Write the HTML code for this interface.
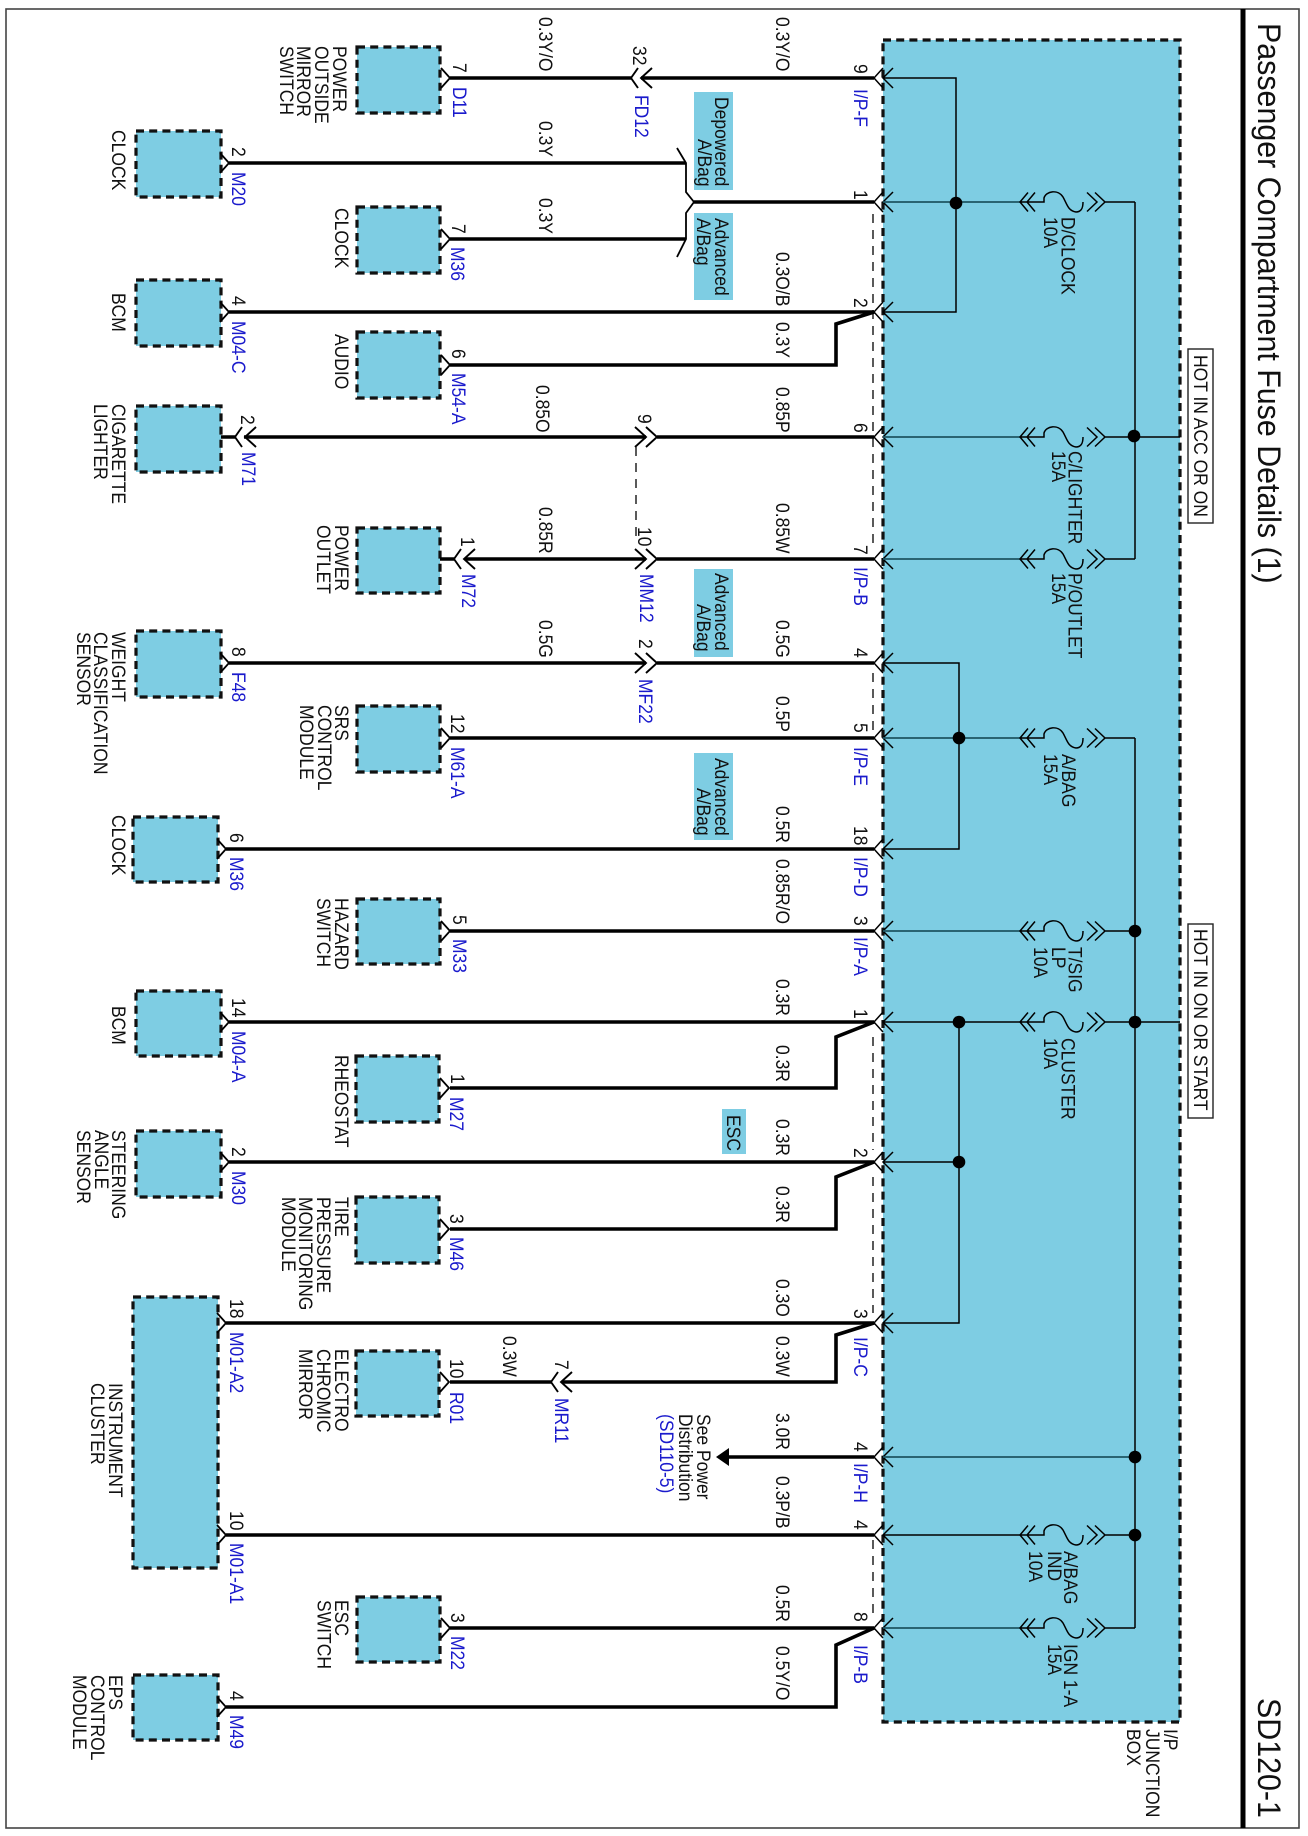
<!DOCTYPE html>
<html><head><meta charset="utf-8"><title>Passenger Compartment Fuse Details (1)</title>
<style>
html,body{margin:0;padding:0;background:#fff}
svg{display:block}
text{font-family:"Liberation Sans",Arial,sans-serif;font-size:17.5px;fill:#111}
.b{fill:#1a1acc}
.tt{font-size:30.4px}
.box{fill:#7ecde3;stroke:#111;stroke-width:3.2;stroke-dasharray:8 5.2}
.tag{fill:#7ecde3;stroke:none}
.w{fill:none;stroke:#000;stroke-width:3.6}
.n{fill:none;stroke:#000;stroke-width:1.5}
.t{fill:none;stroke:#1f5563;stroke-width:1.7}
.d{fill:none;stroke:#000;stroke-width:1.3;stroke-dasharray:9 7}
</style></head><body>
<svg xmlns="http://www.w3.org/2000/svg" width="1308" height="1836" viewBox="0 0 1308 1836">
<defs>
<path id="cn" class="n" d="M-9,-10L0,0L-9,10" style="stroke-width:1.8"/>
<g id="ip"><path class="n" d="M9,-10L0,0L9,10M19,-10L9,0L19,10"/></g>
<g id="L"><path class="n" d="M7,-10L0,0L7,10M21,-10L10,0L21,10" style="stroke-width:1.9"/></g>
<g id="R"><path class="n" d="M-11,-10L0,0L-11,10M-22,-10L-11,0L-22,10" style="stroke-width:1.9"/></g>
<g id="fuse"><path class="n" d="M1028,-9.500L1020,0L1028,9.500M1035,-9.500L1027,0L1035,9.500M1020,0H1044V-4C1046,-11 1058,-13 1063,-5C1067,2 1068,9 1076,10C1082,10 1083,5 1083,0M1087,-9.500L1097,0L1087,9.500M1095,-9.500L1105,0L1095,9.500M1105,0H1135"/></g>
</defs>

<!-- frame -->
<rect x="6" y="9" width="1293" height="1819" fill="none" stroke="#444" stroke-width="1.6"/>
<rect x="1240.500" y="9" width="5" height="1819" fill="#000"/>

<!-- junction box -->
<rect class="box" x="883" y="40" width="297" height="1682"/>

<!-- component boxes -->
<rect class="box" x="357" y="47" width="83" height="66"/>
<rect class="box" x="136" y="131" width="85" height="66"/>
<rect class="box" x="357" y="207" width="83" height="66"/>
<rect class="box" x="136" y="280" width="85" height="66"/>
<rect class="box" x="357" y="332" width="83" height="66"/>
<rect class="box" x="136" y="406" width="85" height="66"/>
<rect class="box" x="357" y="528" width="83" height="65"/>
<rect class="box" x="136" y="631" width="85" height="66"/>
<rect class="box" x="357" y="706" width="83" height="66"/>
<rect class="box" x="133" y="817" width="85" height="65"/>
<rect class="box" x="357" y="899" width="83" height="65"/>
<rect class="box" x="136" y="991" width="85" height="65"/>
<rect class="box" x="356" y="1056" width="83" height="66"/>
<rect class="box" x="136" y="1131" width="85" height="66"/>
<rect class="box" x="356" y="1197" width="83" height="66"/>
<rect class="box" x="133" y="1297" width="85" height="271"/>
<rect class="box" x="356" y="1351" width="83" height="65"/>
<rect class="box" x="357" y="1597" width="83" height="65"/>
<rect class="box" x="133" y="1675" width="85" height="65"/>

<!-- tags -->
<rect class="tag" x="694" y="92" width="39" height="98"/>
<rect class="tag" x="694" y="213" width="39" height="87"/>
<rect class="tag" x="694" y="569" width="39" height="88"/>
<rect class="tag" x="694" y="753" width="39" height="87"/>
<rect class="tag" x="722" y="1109" width="24" height="45"/>

<!-- thick wires -->
<path class="w" d="M450,78H631M641,78H874"/>
<path class="w" d="M229,163H686"/>
<path class="w" d="M694,202H874"/>
<path class="w" d="M450,239H686"/>
<path class="w" d="M229,312H874"/>
<path class="w" d="M450,365H836V324L874,312"/>
<path class="w" d="M221,437H235M244,437H646M657,437H874"/>
<path class="w" d="M440,559H454M465,559H646M657,559H874"/>
<path class="w" d="M229,663H646M657,663H874"/>
<path class="w" d="M450,738H874"/>
<path class="w" d="M226,849H874"/>
<path class="w" d="M450,931H874"/>
<path class="w" d="M229,1022H874"/>
<path class="w" d="M450,1088H836V1037L874,1022"/>
<path class="w" d="M229,1162H874"/>
<path class="w" d="M450,1229H836V1177L874,1162"/>
<path class="w" d="M226,1323H874"/>
<path class="w" d="M450,1382H551M562,1382H836V1335L874,1323"/>
<path class="w" d="M728,1457H874"/>
<polygon points="716,1457 729,1448 729,1466" fill="#000"/>
<path class="w" d="M226,1535H874"/>
<path class="w" d="M450,1628H874"/>
<path class="w" d="M226,1707H836V1645L874,1628"/>

<!-- branch shape -->
<path class="n" d="M677,148L686,163V192L694,202L686,213V239L677,257" style="stroke-width:1.8"/>

<!-- dashed connections -->
<path class="d" d="M873,214V543M873,673V730M873,1037V1150M873,1177V1313M873,1540V1620"/>
<path class="d" d="M636,447V540"/>

<!-- component end connectors -->
<use href="#cn" x="450" y="78"/><use href="#cn" x="229" y="163"/><use href="#cn" x="450" y="239"/>
<use href="#cn" x="229" y="312"/><use href="#cn" x="450" y="365"/><use href="#cn" x="229" y="663"/>
<use href="#cn" x="450" y="738"/><use href="#cn" x="226" y="849"/><use href="#cn" x="450" y="931"/>
<use href="#cn" x="229" y="1022"/><use href="#cn" x="449" y="1088"/><use href="#cn" x="229" y="1162"/>
<use href="#cn" x="449" y="1229"/><use href="#cn" x="226" y="1323"/><use href="#cn" x="449" y="1382"/>
<use href="#cn" x="226" y="1535"/><use href="#cn" x="450" y="1628"/><use href="#cn" x="226" y="1707"/>

<!-- inline connectors -->
<use href="#L" x="631" y="78"/><use href="#L" x="235" y="437"/><use href="#L" x="454" y="559"/><use href="#L" x="551" y="1382"/>
<use href="#R" x="657" y="437"/><use href="#R" x="657" y="559"/><use href="#R" x="657" y="663"/>

<!-- I/P connectors -->
<use href="#ip" x="874" y="78"/><use href="#ip" x="874" y="202"/><use href="#ip" x="874" y="312"/><use href="#ip" x="874" y="437"/>
<use href="#ip" x="874" y="559"/><use href="#ip" x="874" y="663"/><use href="#ip" x="874" y="738"/><use href="#ip" x="874" y="849"/>
<use href="#ip" x="874" y="931"/><use href="#ip" x="874" y="1022"/><use href="#ip" x="874" y="1162"/><use href="#ip" x="874" y="1323"/>
<use href="#ip" x="874" y="1457"/><use href="#ip" x="874" y="1535"/><use href="#ip" x="874" y="1628"/>

<!-- internal wiring -->
<path class="n" d="M883,78H956V312H883"/>
<path class="n" d="M883,663H959V849H883"/>
<path class="n" d="M959,1022V1323H883M883,1162H959"/>
<path class="t" d="M883,202H1020M883,437H1020M883,559H1020M883,738H1020M883,931H1020M883,1457H1135M883,1628H1020"/>
<path class="n" d="M883,1022H1020M883,1535H1020"/>
<path class="n" d="M1135,202V559M1135,738V1628M1135,437H1180M1135,1022H1180"/>
<g>
<use href="#fuse" y="202"/><use href="#fuse" y="437"/><use href="#fuse" y="559"/><use href="#fuse" y="738"/>
<use href="#fuse" y="931"/><use href="#fuse" y="1022"/><use href="#fuse" y="1535"/><use href="#fuse" y="1628"/>
</g>
<g fill="#000">
<circle cx="956" cy="203" r="6.300"/><circle cx="959" cy="738" r="6.300"/><circle cx="959" cy="1022" r="6.300"/><circle cx="959" cy="1162" r="6.300"/>
<circle cx="1134" cy="436" r="6.300"/><circle cx="1135" cy="931" r="6.300"/><circle cx="1135" cy="1022" r="6.300"/><circle cx="1135" cy="1457" r="6.300"/><circle cx="1135" cy="1535" r="6.300"/>
</g>

<!-- hot boxes -->
<rect x="1188" y="349" width="25" height="174" fill="#fff" stroke="#222" stroke-width="1.4"/>
<rect x="1188" y="924" width="25" height="194" fill="#fff" stroke="#222" stroke-width="1.4"/>
<text transform="translate(1194 355) rotate(90) scale(1 1.1)">HOT IN ACC OR ON</text>
<text transform="translate(1194 929) rotate(90) scale(1 1.1)">HOT IN ON OR START</text>

<!-- title -->
<text class="tt" transform="translate(1258 23) rotate(90) scale(1 1.08)">Passenger Compartment Fuse Details (1)</text>
<text class="tt" transform="translate(1258 1698) rotate(90) scale(1 1.08)">SD120-1</text>

<!-- component names -->
<text transform="translate(333 46) rotate(90) scale(1 1.1)">POWER</text><text transform="translate(315 46) rotate(90) scale(1 1.1)">OUTSIDE</text><text transform="translate(297 46) rotate(90) scale(1 1.1)">MIRROR</text><text transform="translate(280 46) rotate(90) scale(1 1.1)">SWITCH</text>
<text transform="translate(112 130) rotate(90) scale(1 1.1)">CLOCK</text>
<text transform="translate(335 208) rotate(90) scale(1 1.1)">CLOCK</text>
<text transform="translate(112 293) rotate(90) scale(1 1.1)">BCM</text>
<text transform="translate(335 334) rotate(90) scale(1 1.1)">AUDIO</text>
<text transform="translate(112 404) rotate(90) scale(1 1.1)">CIGARETTE</text><text transform="translate(94 404) rotate(90) scale(1 1.1)">LIGHTER</text>
<text transform="translate(335 525) rotate(90) scale(1 1.1)">POWER</text><text transform="translate(317 525) rotate(90) scale(1 1.1)">OUTLET</text>
<text transform="translate(112 632) rotate(90) scale(1 1.1)">WEIGHT</text><text transform="translate(94 632) rotate(90) scale(1 1.1)">CLASSIFICATION</text><text transform="translate(77 632) rotate(90) scale(1 1.1)">SENSOR</text>
<text transform="translate(335 705) rotate(90) scale(1 1.1)">SRS</text><text transform="translate(318 705) rotate(90) scale(1 1.1)">CONTROL</text><text transform="translate(300 705) rotate(90) scale(1 1.1)">MODULE</text>
<text transform="translate(112 815) rotate(90) scale(1 1.1)">CLOCK</text>
<text transform="translate(335 898) rotate(90) scale(1 1.1)">HAZARD</text><text transform="translate(317 898) rotate(90) scale(1 1.1)">SWITCH</text>
<text transform="translate(112 1006) rotate(90) scale(1 1.1)">BCM</text>
<text transform="translate(335 1055) rotate(90) scale(1 1.1)">RHEOSTAT</text>
<text transform="translate(112 1130) rotate(90) scale(1 1.1)">STEERING</text><text transform="translate(95 1130) rotate(90) scale(1 1.1)">ANGLE</text><text transform="translate(77 1130) rotate(90) scale(1 1.1)">SENSOR</text>
<text transform="translate(335 1197) rotate(90) scale(1 1.1)">TIRE</text><text transform="translate(317 1197) rotate(90) scale(1 1.1)">PRESSURE</text><text transform="translate(299 1197) rotate(90) scale(1 1.1)">MONITORING</text><text transform="translate(282 1197) rotate(90) scale(1 1.1)">MODULE</text>
<text transform="translate(109 1383) rotate(90) scale(1 1.1)">INSTRUMENT</text><text transform="translate(91 1383) rotate(90) scale(1 1.1)">CLUSTER</text>
<text transform="translate(335 1349) rotate(90) scale(1 1.1)">ELECTRO</text><text transform="translate(317 1349) rotate(90) scale(1 1.1)">CHROMIC</text><text transform="translate(299 1349) rotate(90) scale(1 1.1)">MIRROR</text>
<text transform="translate(335 1600) rotate(90) scale(1 1.1)">ESC</text><text transform="translate(317.500 1600) rotate(90) scale(1 1.1)">SWITCH</text>
<text transform="translate(109 1675) rotate(90) scale(1 1.1)">EPS</text><text transform="translate(91 1675) rotate(90) scale(1 1.1)">CONTROL</text><text transform="translate(73 1675) rotate(90) scale(1 1.1)">MODULE</text>
<text transform="translate(1164 1729) rotate(90) scale(1 1.1)">I/P</text><text transform="translate(1146 1729) rotate(90) scale(1 1.1)">JUNCTION</text><text transform="translate(1127 1729) rotate(90) scale(1 1.1)">BOX</text>

<!-- pin numbers, left side -->
<text transform="translate(453 63) rotate(90) scale(1 1.1)">7</text>
<text transform="translate(232 147) rotate(90) scale(1 1.1)">2</text>
<text transform="translate(452 224) rotate(90) scale(1 1.1)">7</text>
<text transform="translate(232 296) rotate(90) scale(1 1.1)">4</text>
<text transform="translate(452 349) rotate(90) scale(1 1.1)">6</text>
<text transform="translate(241 415) rotate(90) scale(1 1.1)">2</text>
<text transform="translate(461 537) rotate(90) scale(1 1.1)">1</text>
<text transform="translate(232 647) rotate(90) scale(1 1.1)">8</text>
<text transform="translate(451 714) rotate(90) scale(1 1.1)">12</text>
<text transform="translate(230 833) rotate(90) scale(1 1.1)">6</text>
<text transform="translate(453 915) rotate(90) scale(1 1.1)">5</text>
<text transform="translate(232 998) rotate(90) scale(1 1.1)">14</text>
<text transform="translate(451 1074) rotate(90) scale(1 1.1)">1</text>
<text transform="translate(232 1147) rotate(90) scale(1 1.1)">2</text>
<text transform="translate(450 1214) rotate(90) scale(1 1.1)">3</text>
<text transform="translate(230 1299) rotate(90) scale(1 1.1)">18</text>
<text transform="translate(450 1359) rotate(90) scale(1 1.1)">10</text>
<text transform="translate(230 1511) rotate(90) scale(1 1.1)">10</text>
<text transform="translate(451 1613) rotate(90) scale(1 1.1)">3</text>
<text transform="translate(230 1691) rotate(90) scale(1 1.1)">4</text>
<!-- inline pins -->
<text transform="translate(633 46) rotate(90) scale(1 1.1)">32</text>
<text transform="translate(638 414) rotate(90) scale(1 1.1)">9</text>
<text transform="translate(638 527) rotate(90) scale(1 1.1)">10</text>
<text transform="translate(639 639) rotate(90) scale(1 1.1)">2</text>
<text transform="translate(555 1360) rotate(90) scale(1 1.1)">7</text>
<!-- I/P pins -->
<text transform="translate(854 64) rotate(90) scale(1 1.1)">9</text>
<text transform="translate(854 190) rotate(90) scale(1 1.1)">1</text>
<text transform="translate(854 298) rotate(90) scale(1 1.1)">2</text>
<text transform="translate(854 423) rotate(90) scale(1 1.1)">6</text>
<text transform="translate(854 545) rotate(90) scale(1 1.1)">7</text>
<text transform="translate(854 648) rotate(90) scale(1 1.1)">4</text>
<text transform="translate(854 723) rotate(90) scale(1 1.1)">5</text>
<text transform="translate(854 826) rotate(90) scale(1 1.1)">18</text>
<text transform="translate(854 916) rotate(90) scale(1 1.1)">3</text>
<text transform="translate(854 1009) rotate(90) scale(1 1.1)">1</text>
<text transform="translate(854 1148) rotate(90) scale(1 1.1)">2</text>
<text transform="translate(854 1309) rotate(90) scale(1 1.1)">3</text>
<text transform="translate(854 1442) rotate(90) scale(1 1.1)">4</text>
<text transform="translate(854 1520) rotate(90) scale(1 1.1)">4</text>
<text transform="translate(854 1612) rotate(90) scale(1 1.1)">8</text>

<!-- connector names -->
<g class="cnames">
<text class="b" transform="translate(453 87) rotate(90) scale(1 1.1)">D11</text>
<text class="b" transform="translate(635 95) rotate(90) scale(1 1.1)">FD12</text>
<text class="b" transform="translate(232 172) rotate(90) scale(1 1.1)">M20</text>
<text class="b" transform="translate(451 247) rotate(90) scale(1 1.1)">M36</text>
<text class="b" transform="translate(232 321) rotate(90) scale(1 1.1)">M04-C</text>
<text class="b" transform="translate(452 373) rotate(90) scale(1 1.1)">M54-A</text>
<text class="b" transform="translate(242 452) rotate(90) scale(1 1.1)">M71</text>
<text class="b" transform="translate(462 574) rotate(90) scale(1 1.1)">M72</text>
<text class="b" transform="translate(640 574) rotate(90) scale(1 1.1)">MM12</text>
<text class="b" transform="translate(232 672) rotate(90) scale(1 1.1)">F48</text>
<text class="b" transform="translate(639 679) rotate(90) scale(1 1.1)">MF22</text>
<text class="b" transform="translate(451 747) rotate(90) scale(1 1.1)">M61-A</text>
<text class="b" transform="translate(230 857) rotate(90) scale(1 1.1)">M36</text>
<text class="b" transform="translate(453 939) rotate(90) scale(1 1.1)">M33</text>
<text class="b" transform="translate(232 1031) rotate(90) scale(1 1.1)">M04-A</text>
<text class="b" transform="translate(450 1097) rotate(90) scale(1 1.1)">M27</text>
<text class="b" transform="translate(232 1171) rotate(90) scale(1 1.1)">M30</text>
<text class="b" transform="translate(450 1237) rotate(90) scale(1 1.1)">M46</text>
<text class="b" transform="translate(230 1332) rotate(90) scale(1 1.1)">M01-A2</text>
<text class="b" transform="translate(450 1392) rotate(90) scale(1 1.1)">R01</text>
<text class="b" transform="translate(555 1398) rotate(90) scale(1 1.1)">MR11</text>
<text class="b" transform="translate(230 1543) rotate(90) scale(1 1.1)">M01-A1</text>
<text class="b" transform="translate(451 1636) rotate(90) scale(1 1.1)">M22</text>
<text class="b" transform="translate(230 1715) rotate(90) scale(1 1.1)">M49</text>
<text class="b" transform="translate(854 89) rotate(90) scale(1 1.1)">I/P-F</text>
<text class="b" transform="translate(854 567) rotate(90) scale(1 1.1)">I/P-B</text>
<text class="b" transform="translate(854 747) rotate(90) scale(1 1.1)">I/P-E</text>
<text class="b" transform="translate(854 857) rotate(90) scale(1 1.1)">I/P-D</text>
<text class="b" transform="translate(854 937) rotate(90) scale(1 1.1)">I/P-A</text>
<text class="b" transform="translate(854 1337) rotate(90) scale(1 1.1)">I/P-C</text>
<text class="b" transform="translate(854 1463) rotate(90) scale(1 1.1)">I/P-H</text>
<text class="b" transform="translate(854 1645) rotate(90) scale(1 1.1)">I/P-B</text>
</g>

<!-- wire labels, left column -->
<text transform="translate(539 17) rotate(90) scale(1 1.1)">0.3Y/O</text>
<text transform="translate(539 121) rotate(90) scale(1 1.1)">0.3Y</text>
<text transform="translate(539 198) rotate(90) scale(1 1.1)">0.3Y</text>
<text transform="translate(536 385) rotate(90) scale(1 1.1)">0.85O</text>
<text transform="translate(539 507) rotate(90) scale(1 1.1)">0.85R</text>
<text transform="translate(539 620) rotate(90) scale(1 1.1)">0.5G</text>
<text transform="translate(503 1336) rotate(90) scale(1 1.1)">0.3W</text>
<!-- wire labels, right column -->
<text transform="translate(776 17) rotate(90) scale(1 1.1)">0.3Y/O</text>
<text transform="translate(776 252) rotate(90) scale(1 1.1)">0.3O/B</text>
<text transform="translate(776 322) rotate(90) scale(1 1.1)">0.3Y</text>
<text transform="translate(776 387) rotate(90) scale(1 1.1)">0.85P</text>
<text transform="translate(776 503) rotate(90) scale(1 1.1)">0.85W</text>
<text transform="translate(776 620) rotate(90) scale(1 1.1)">0.5G</text>
<text transform="translate(776 696) rotate(90) scale(1 1.1)">0.5P</text>
<text transform="translate(776 806) rotate(90) scale(1 1.1)">0.5R</text>
<text transform="translate(776 859) rotate(90) scale(1 1.1)">0.85R/O</text>
<text transform="translate(776 979) rotate(90) scale(1 1.1)">0.3R</text>
<text transform="translate(776 1045) rotate(90) scale(1 1.1)">0.3R</text>
<text transform="translate(776 1119) rotate(90) scale(1 1.1)">0.3R</text>
<text transform="translate(776 1186) rotate(90) scale(1 1.1)">0.3R</text>
<text transform="translate(776 1279) rotate(90) scale(1 1.1)">0.3O</text>
<text transform="translate(776 1336) rotate(90) scale(1 1.1)">0.3W</text>
<text transform="translate(776 1413) rotate(90) scale(1 1.1)">3.0R</text>
<text transform="translate(776 1476) rotate(90) scale(1 1.1)">0.3P/B</text>
<text transform="translate(776 1585) rotate(90) scale(1 1.1)">0.5R</text>
<text transform="translate(776 1646) rotate(90) scale(1 1.1)">0.5Y/O</text>

<!-- tags text -->
<text transform="translate(715 97) rotate(90) scale(1 1.1)">Depowered</text><text transform="translate(698 139) rotate(90) scale(1 1.1)">A/Bag</text>
<text transform="translate(715 218) rotate(90) scale(1 1.1)">Advanced</text><text transform="translate(697 218) rotate(90) scale(1 1.1)">A/Bag</text>
<text transform="translate(715 573) rotate(90) scale(1 1.1)">Advanced</text><text transform="translate(697 604) rotate(90) scale(1 1.1)">A/Bag</text>
<text transform="translate(715 758) rotate(90) scale(1 1.1)">Advanced</text><text transform="translate(697 788) rotate(90) scale(1 1.1)">A/Bag</text>
<text transform="translate(727 1115) rotate(90) scale(1 1.1)">ESC</text>
<text transform="translate(697 1414) rotate(90) scale(1 1.1)">See Power</text><text transform="translate(679 1414) rotate(90) scale(1 1.1)">Distribution</text><text class="b" transform="translate(660 1414) rotate(90) scale(1 1.1)">(SD110-5)</text>

<!-- fuse labels -->
<text transform="translate(1061.500 217) rotate(90) scale(1 1.1)">D/CLOCK</text><text transform="translate(1044 217) rotate(90) scale(1 1.1)">10A</text>
<text transform="translate(1068.500 451) rotate(90) scale(1 1.1)">C/LIGHTER</text><text transform="translate(1052 451) rotate(90) scale(1 1.1)">15A</text>
<text transform="translate(1068.500 573) rotate(90) scale(1 1.1)">P/OUTLET</text><text transform="translate(1052 573) rotate(90) scale(1 1.1)">15A</text>
<text transform="translate(1062 754) rotate(90) scale(1 1.1)">A/BAG</text><text transform="translate(1044 754) rotate(90) scale(1 1.1)">15A</text>
<text transform="translate(1068.500 947) rotate(90) scale(1 1.1)">T/SIG</text><text transform="translate(1052 947) rotate(90) scale(1 1.1)">LP</text><text transform="translate(1034 947) rotate(90) scale(1 1.1)">10A</text>
<text transform="translate(1061.500 1038) rotate(90) scale(1 1.1)">CLUSTER</text><text transform="translate(1044 1038) rotate(90) scale(1 1.1)">10A</text>
<text transform="translate(1064 1551) rotate(90) scale(1 1.1)">A/BAG</text><text transform="translate(1048 1551) rotate(90) scale(1 1.1)">IND</text><text transform="translate(1029 1551) rotate(90) scale(1 1.1)">10A</text>
<text transform="translate(1064 1644) rotate(90) scale(1 1.1)">IGN 1-A</text><text transform="translate(1048 1644) rotate(90) scale(1 1.1)">15A</text>
</svg>
</body></html>
